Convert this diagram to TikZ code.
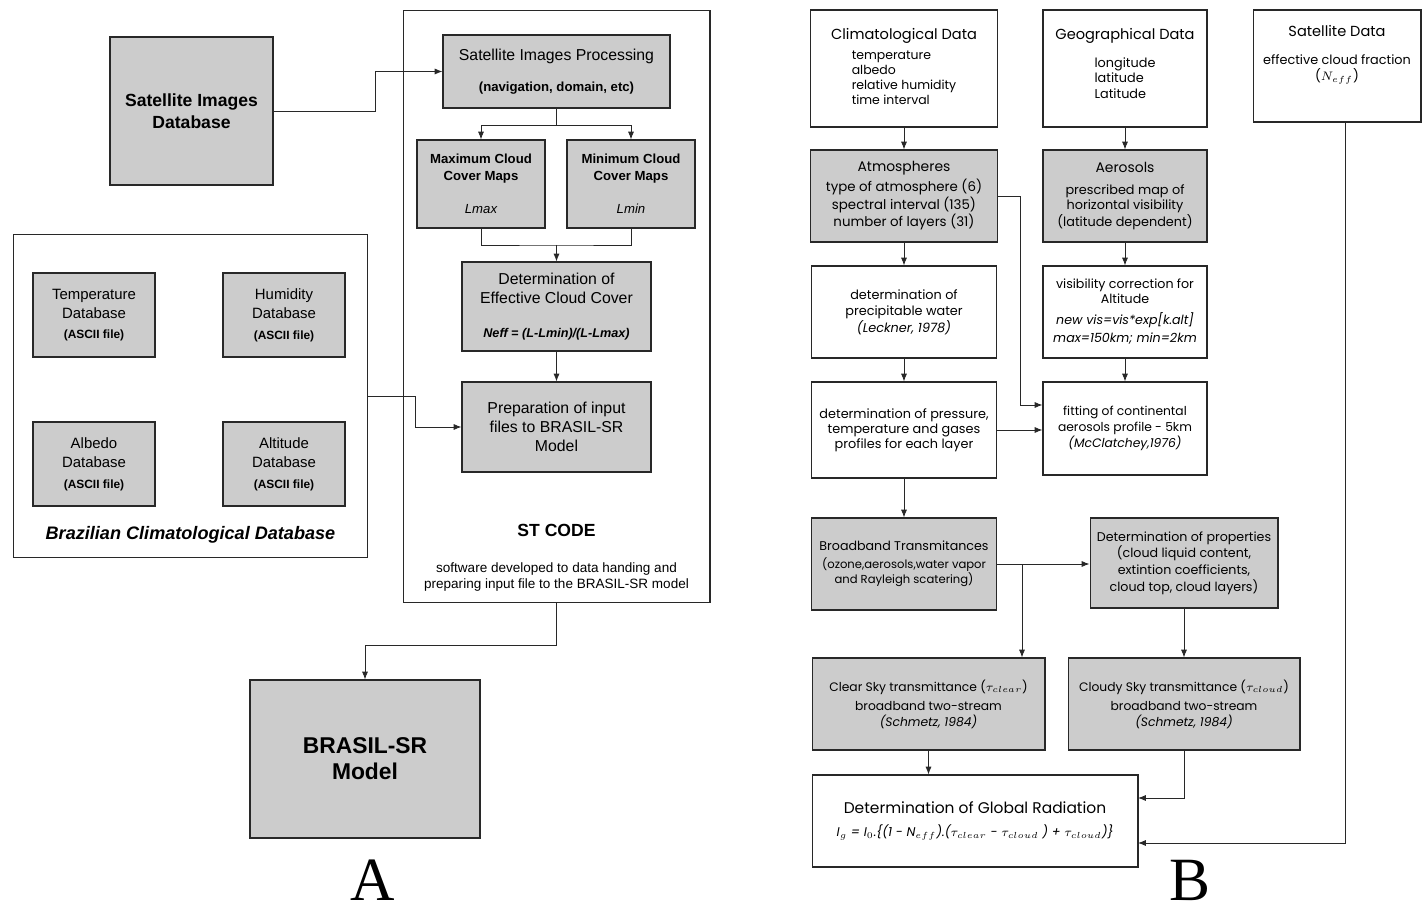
\documentclass[tikz,border=0pt]{standalone}
\usepackage{fontspec}
\setmainfont{Liberation Sans}
\newfontfamily\gothicfont{Poppins}
\newfontfamily\letterfont{Liberation Serif}
\usetikzlibrary{arrows.meta, positioning, calc}

\begin{document}
\begin{tikzpicture}[x=0.02cm, y=-0.02cm,
    every node/.style={inner sep=2pt, align=center},
    graybox/.style={draw=linecol, fill=boxgray, line width=0.6pt},
    whitebox/.style={draw=linecol, fill=white, line width=0.6pt},
    frame/.style={draw=linecol, line width=0.6pt},
    link/.style={draw=linecol, line width=0.5pt},
    arr/.style={draw=linecol, line width=0.5pt, -{Latex[length=4.5pt, width=3.5pt]}}]

% --- COLOURS ---
\definecolor{boxgray}{RGB}{204, 204, 204}   % shaded boxes
\definecolor{linecol}{RGB}{40, 40, 40}      % borders and connectors

\useasboundingbox (0,0) rectangle (1424,915);

% --- PANEL A: ST CODE ---
\begin{scope}
    \node[frame, minimum width=6.14cm, minimum height=11.86cm] (stbox) at (556.5,306.5) {};

    \node[graybox, minimum width=3.26cm, minimum height=2.96cm,
          font=\bfseries\fontsize{10}{12.5}\selectfont] (satdb) at (191.5,111)
        {Satellite Images\\Database};

    \node[graybox, minimum width=4.54cm, minimum height=1.46cm,
          font=\fontsize{9}{10}\selectfont] (proc) at (556.5,71.5)
        {Satellite Images Processing\\[8pt]{\bfseries\fontsize{7.5}{8}\selectfont (navigation, domain, etc)}};

    \node[graybox, minimum width=2.56cm, minimum height=1.76cm,
          font=\bfseries\fontsize{7.5}{9.6}\selectfont] (maxmap) at (481,184)
        {Maximum Cloud\\Cover Maps\\[9pt]{\mdseries\itshape Lmax}};
    \node[graybox, minimum width=2.56cm, minimum height=1.76cm,
          font=\bfseries\fontsize{7.5}{9.6}\selectfont] (minmap) at (631,184)
        {Minimum Cloud\\Cover Maps\\[9pt]{\mdseries\itshape Lmin}};

    \node[graybox, minimum width=3.78cm, minimum height=1.78cm,
          font=\fontsize{9}{10.8}\selectfont] (effcc) at (556.5,306.5)
        {Determination of\\Effective Cloud Cover\\[9pt]{\bfseries\itshape\fontsize{7.2}{8}\selectfont Neff = (L-Lmin)/(L-Lmax)}};

    \node[graybox, minimum width=3.78cm, minimum height=1.8cm,
          font=\fontsize{9}{11}\selectfont] (prep) at (556.5,427)
        {Preparation of input\\files to BRASIL-SR\\Model};

    \node[font=\bfseries\fontsize{10}{12}\selectfont] (sttitle) at (556.5,530) {ST CODE};
    \node[font=\fontsize{7.7}{8.6}\selectfont] (stnote) at (556.5,577)
        {software developed to data handing and\\preparing input file to the BRASIL-SR model};

    \coordinate (split1) at (556.5,125);
    \coordinate (join1) at (556.5,245);
    \coordinate (bendA) at (375,111);
    \draw[arr] (satdb.east) -- (bendA) |- (proc.west);
    \draw[link] (proc.south) -- (split1);
    \draw[arr] (split1) -| (maxmap.north);
    \draw[arr] (split1) -| (minmap.north);
    \draw[link] (maxmap.south) |- (join1) -| (minmap.south);
    \draw[arr] (join1) -- (effcc.north);
    \draw[arr] (effcc.south) -- (prep.north);
\end{scope}

% --- PANEL A: CLIMATOLOGICAL DATABASE ---
\begin{scope}
    \node[frame, minimum width=7.1cm, minimum height=6.48cm] (climbox) at (190.5,396) {};

    \node[graybox, minimum width=2.44cm, minimum height=1.68cm,
          font=\fontsize{8.5}{10.8}\selectfont] (temp) at (94,315)
        {Temperature\\Database\\[1pt]{\bfseries\fontsize{6.8}{7}\selectfont (ASCII file)}};
    \node[graybox, minimum width=2.44cm, minimum height=1.68cm,
          font=\fontsize{8.5}{10.8}\selectfont] (hum) at (284,315)
        {Humidity\\Database\\[1pt]{\bfseries\fontsize{6.8}{7}\selectfont (ASCII file)}};
    \node[graybox, minimum width=2.44cm, minimum height=1.68cm,
          font=\fontsize{8.5}{10.8}\selectfont] (alb) at (94,464)
        {Albedo\\Database\\[1pt]{\bfseries\fontsize{6.8}{7}\selectfont (ASCII file)}};
    \node[graybox, minimum width=2.44cm, minimum height=1.68cm,
          font=\fontsize{8.5}{10.8}\selectfont] (alt) at (284,464)
        {Altitude\\Database\\[1pt]{\bfseries\fontsize{6.8}{7}\selectfont (ASCII file)}};

    \node[font=\bfseries\itshape\fontsize{10.3}{12}\selectfont] (climtitle) at (190.5,535)
        {Brazilian Climatological Database};

    \draw[arr] (climbox.east) -- ++(47,0) |- (prep.west);
\end{scope}

% --- PANEL A: MODEL ---
\node[graybox, minimum width=4.6cm, minimum height=3.16cm,
      font=\bfseries\fontsize{13}{14.7}\selectfont] (brasil) at (365,759)
    {BRASIL-SR\\Model};
\draw[arr] (stbox.south) -- ++(0,42) -| (brasil.north);
\node[anchor=base, inner sep=0pt, font=\letterfont\fontsize{35}{35}\selectfont] (labA) at (373,900) {A};

% --- PANEL B: INPUT DATA ---
\node[whitebox, minimum width=3.74cm, minimum height=2.34cm,
      font=\gothicfont\fontsize{7.1}{8.5}\selectfont] (climdata) at (904,68.5)
    {{\fontsize{8.3}{9}\selectfont Climatological Data}\\[3pt]\begin{tabular}[t]{@{}l@{}}temperature\\albedo\\relative humidity\\time interval\end{tabular}};
\node[whitebox, minimum width=3.28cm, minimum height=2.34cm,
      font=\gothicfont\fontsize{7.3}{8.8}\selectfont] (geodata) at (1125,68.5)
    {{\fontsize{8.3}{9}\selectfont Geographical Data}\\[7pt]\begin{tabular}[t]{@{}l@{}}longitude\\latitude\\Latitude\end{tabular}\\[2pt]\mbox{}};
\node[whitebox, minimum width=3.36cm, minimum height=2.24cm,
      font=\gothicfont\fontsize{7.3}{9.5}\selectfont] (satdata) at (1337,66)
    {{\fontsize{8.3}{9}\selectfont Satellite Data}\\[6pt]effective cloud fraction\\($N_{eff}$)\\[5pt]\mbox{}};

% --- PANEL B: ATMOSPHERE AND AEROSOLS ---
\node[graybox, minimum width=3.74cm, minimum height=1.84cm,
      font=\gothicfont\fontsize{7.6}{8.2}\selectfont] (atmos) at (904,196)
    {{\fontsize{7.9}{9}\selectfont Atmospheres}\\[1pt]type of atmosphere (6)\\spectral interval (135)\\number of layers (31)};
\node[graybox, minimum width=3.28cm, minimum height=1.84cm,
      font=\gothicfont\fontsize{7.3}{8.6}\selectfont] (aeros) at (1125,196)
    {{\fontsize{7.9}{9}\selectfont Aerosols}\\[4pt]prescribed map of\\horizontal visibility\\(latitude dependent)};

\node[whitebox, minimum width=3.7cm, minimum height=1.84cm,
      font=\gothicfont\fontsize{7.3}{9.3}\selectfont] (precip) at (904,312)
    {determination of\\precipitable water\\{\itshape (Leckner, 1978)}};
\node[whitebox, minimum width=3.28cm, minimum height=1.84cm,
      font=\gothicfont\fontsize{7.2}{8.6}\selectfont] (viscorr) at (1125,312)
    {visibility correction for\\Altitude\\[3pt]{\itshape new vis=vis*exp[k.alt]}\\[2pt]{\itshape max=150km; min=2km}};

\node[whitebox, minimum width=3.7cm, minimum height=1.92cm,
      font=\gothicfont\fontsize{7.3}{8.6}\selectfont] (press) at (904,430)
    {determination of pressure,\\temperature and gases\\profiles for each layer};
\node[whitebox, minimum width=3.28cm, minimum height=1.86cm,
      font=\gothicfont\fontsize{7}{9}\selectfont] (aerofit) at (1125,428.5)
    {fitting of continental\\aerosols profile - 5km\\{\itshape (McClatchey,1976)}};

% --- PANEL B: TRANSMITTANCES ---
\node[graybox, minimum width=3.7cm, minimum height=1.84cm,
      font=\gothicfont\fontsize{6.6}{9}\selectfont] (broad) at (904,564)
    {{\fontsize{7.2}{9}\selectfont Broadband Transmitances}\\[1pt](ozone,aerosols,water vapor\\and Rayleigh scatering)};
\node[graybox, minimum width=3.76cm, minimum height=1.8cm,
      font=\gothicfont\fontsize{7.2}{9.5}\selectfont] (detprop) at (1184,563)
    {Determination of properties\\(cloud liquid content,\\extintion coefficients,\\cloud top, cloud layers)};

\node[graybox, minimum width=4.66cm, minimum height=1.84cm,
      font=\gothicfont\fontsize{7}{9}\selectfont] (clear) at (928.5,704)
    {Clear Sky transmittance ($\tau_{clear}$)\\[2pt]broadband two-stream\\{\itshape (Schmetz, 1984)}};
\node[graybox, minimum width=4.64cm, minimum height=1.84cm,
      font=\gothicfont\fontsize{7}{9}\selectfont] (cloudy) at (1184,704)
    {Cloudy Sky transmittance ($\tau_{cloud}$)\\[2pt]broadband two-stream\\{\itshape (Schmetz, 1984)}};

% --- PANEL B: GLOBAL RADIATION ---
\node[whitebox, minimum width=6.52cm, minimum height=1.84cm,
      font=\gothicfont\fontsize{7.2}{9}\selectfont] (global) at (975,821)
    {{\fontsize{8.8}{10}\selectfont Determination of Global Radiation}\\[4pt]{\itshape I$_g$ = I$_0$.\{(1 - N$_{eff}$).($\tau_{clear}$ - $\tau_{cloud}$ ) + $\tau_{cloud}$)\}}};

\coordinate (kink) at (1020,405);
\coordinate (branch) at (1022,564);
\coordinate (inA) at (1138,798);
\coordinate (inB) at (1138,843);
\draw[arr] (climdata.south) -- (atmos.north);
\draw[arr] (geodata.south) -- (aeros.north);
\draw[arr] (atmos.south) -- (precip.north);
\draw[arr] (aeros.south) -- (viscorr.north);
\draw[arr] (precip.south) -- (press.north);
\draw[arr] (viscorr.south) -- (aerofit.north);
\draw[arr] (atmos.east) -| (kink) -- (kink -| aerofit.west);
\draw[arr] (press.east) -- (press.east -| aerofit.west);
\draw[arr] (press.south) -- (broad.north);
\draw[arr] (broad.east) -- (broad.east -| detprop.west);
\draw[arr] (branch) -- (branch |- clear.north);
\draw[arr] (detprop.south) -- (cloudy.north);
\draw[arr] (clear.south) -- (clear.south |- global.north);
\draw[arr] (cloudy.south) |- (inA);
\draw[arr] ([xshift=0.16cm]satdata.south) |- (inB);
\node[anchor=base, inner sep=0pt, font=\letterfont\fontsize{35}{35}\selectfont] (labB) at (1190,900) {B};

\end{tikzpicture}
\end{document}
